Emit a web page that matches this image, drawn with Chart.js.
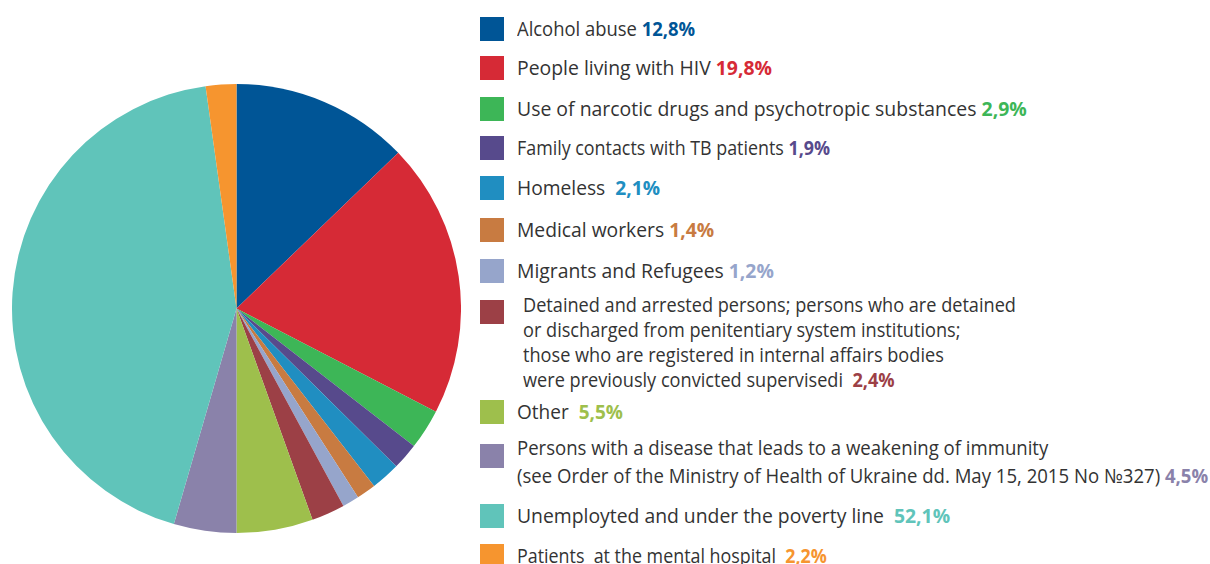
<!DOCTYPE html>
<html>
<head>
<meta charset="utf-8">
<script src="https://cdn.jsdelivr.net/npm/chart.js@4/dist/chart.umd.min.js"></script>
<style>
  html, body { margin: 0; padding: 0; background: #fff; }
  body { width: 1210px; height: 564px; position: relative; overflow: hidden; font-family: "Open Sans", sans-serif; }
  #pie-box { position: absolute; left: 12px; top: 84px; width: 449px; height: 449px; }
  .item { position: absolute; left: 480px; }
  .sw { position: absolute; left: 0; top: 0; width: 24px; height: 24px; }
  .txt { position: absolute; left: 37px; top: -1px; white-space: pre; color: #333; font-size: 19.5px; line-height: 25px; transform-origin: 0 0; }
  .txt b { font-weight: 700; }
</style>
</head>
<body>
<div id="pie-box"><canvas id="pie"></canvas></div>
<div id="legend"></div>
<script>
"use strict";

var labels = [
  "Alcohol abuse ",
  "People living with HIV ",
  "Use of narcotic drugs and psychotropic substances ",
  "Family contacts with TB patients ",
  "Homeless  ",
  "Medical workers ",
  "Migrants and Refugees ",
  "Detained and arrested persons; persons who are detained\nor discharged from penitentiary system institutions;\nthose who are registered in internal affairs bodies\nwere previously convicted supervisedi  ",
  "Other  ",
  "Persons with a disease that leads to a weakening of immunity\n(see Order of the Ministry of Health of Ukraine dd. May 15, 2015 No №327) ",
  "Unemployted and under the poverty line  ",
  "Patients  at the mental hospital  "
];
// percentages printed in the legend
var shares = [12.8, 19.8, 2.9, 1.9, 2.1, 1.4, 1.2, 2.4, 5.5, 4.5, 52.1, 2.2];
// slice sizes as drawn in the picture (unemployed slice is smaller than its label)
var sliceValues = [12.8, 19.8, 2.9, 1.9, 2.1, 1.4, 1.2, 2.4, 5.5, 4.5, 43.3, 2.2];
var colors = [
  "#005596", "#d62a36", "#3db657", "#574a8c", "#208ec1", "#c87b41",
  "#96a5cb", "#9c4046", "#9ebf4c", "#8a82aa", "#60c4ba", "#f6952f"
];

// legend layout
var rowTops = [17, 56, 97, 136, 176, 218, 259, 300, 400, 444, 504, 544];
var rowRight = [695, 772, 1027, 830, 660, 714, 774, 1016, 623, 1208, 950, 827];

$ready(function () {
  var legend = document.getElementById("legend");
  for (var i = 0; i < labels.length; i++) {
    var item = document.createElement("div");
    item.className = "item";
    item.style.top = rowTops[i] + "px";
    var sw = document.createElement("div");
    sw.className = "sw";
    sw.style.background = colors[i];
    var txt = document.createElement("div");
    txt.className = "txt";
    if (i === 7) {
      txt.style.left = "43px";
      txt.style.top = "-8px";
    }
    if (i === 9) {
      txt.style.lineHeight = "28px";
      txt.style.top = "-10px";
    }
    var pct = document.createElement("b");
    pct.style.color = colors[i];
    pct.textContent = shares[i].toFixed(1).replace(".", ",") + "%";
    txt.appendChild(document.createTextNode(labels[i]));
    txt.appendChild(pct);
    item.appendChild(sw);
    item.appendChild(txt);
    legend.appendChild(item);
    // squeeze/stretch each row to the width it has in the picture
    var left = 480 + parseFloat(txt.style.left || 37);
    var w = txt.getBoundingClientRect().width;
    txt.style.transform = "scaleX(" + ((rowRight[i] - left) / w).toFixed(3) + ")";
  }

  var ctx = document.getElementById("pie").getContext("2d");
  new Chart(ctx, {
    type: "pie",
    data: {
      labels: labels,
      datasets: [
        {
          data: sliceValues,
          backgroundColor: colors,
          borderWidth: 0,
        },
      ],
    },
    options: {
      responsive: true,
      maintainAspectRatio: false,
      animation: false,
      layout: { padding: 0 },
      plugins: {
        legend: { display: false },
        tooltip: { enabled: false },
      },
    },
  });
});

function $ready(fn) {
  if (document.readyState !== "loading") fn();
  else document.addEventListener("DOMContentLoaded", fn);
}
</script>
</body>
</html>
